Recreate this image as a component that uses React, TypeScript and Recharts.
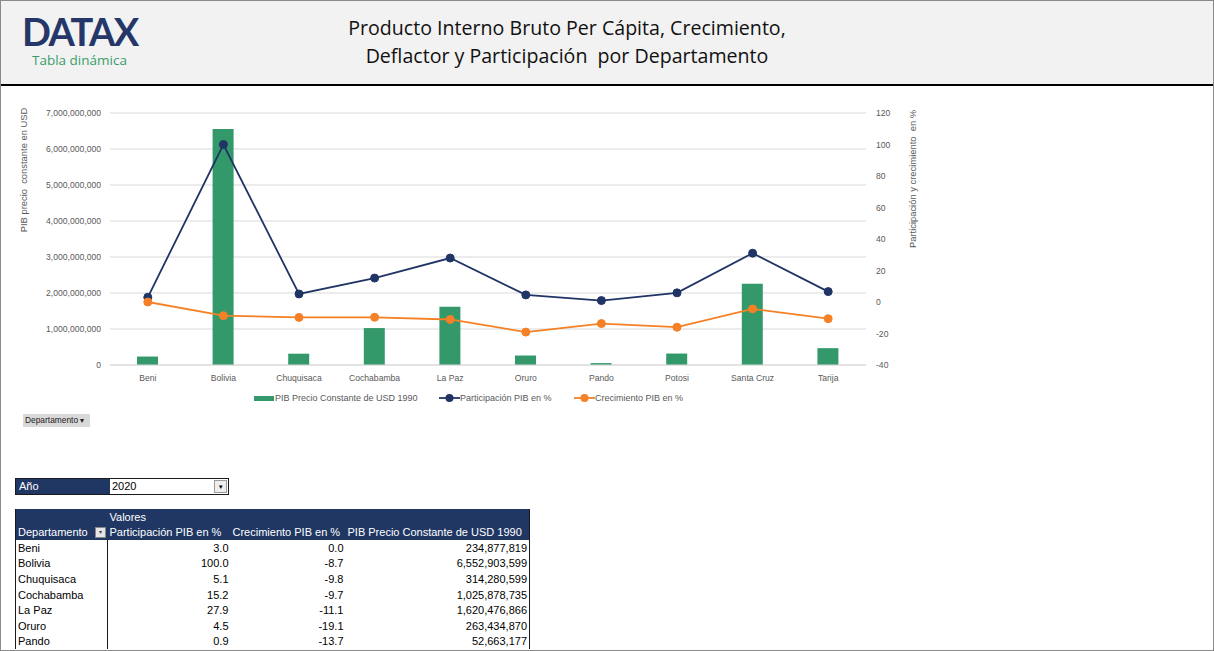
import React from 'react';
import { ComposedChart, Bar, Line, XAxis, YAxis, CartesianGrid } from 'recharts';

// valores leidos de la tabla dinamica (Potosi, Santa Cruz y Tarija estimados del grafico)
const departamentos = ['Beni', 'Bolivia', 'Chuquisaca', 'Cochabamba', 'La Paz', 'Oruro', 'Pando', 'Potosi', 'Santa Cruz', 'Tarija'];
const participacion = [3.0, 100.0, 5.1, 15.2, 27.9, 4.5, 0.9, 5.8, 31.0, 6.6];
const crecimiento = [0.0, -8.7, -9.8, -9.7, -11.1, -19.1, -13.7, -16.0, -4.4, -10.6];
const pibConstante = [234877819, 6552903599, 314280599, 1025878735, 1620476866, 263434870, 52663177, 318000000, 2255000000, 468000000];

const leftTicks = [0, 1000000000, 2000000000, 3000000000, 4000000000, 5000000000, 6000000000, 7000000000];
const rightTicks = [-40, -20, 0, 20, 40, 60, 80, 100, 120];

// filas que caben en la vista de la tabla
const visibleRows = 7;

const GREEN = '#33996b';
const NAVY = '#203466';
const ORANGE = '#f58025';
const TICK = '#595959';
const HEADER_NAVY = '#203764';
const SANS = '"Liberation Sans", Arial, sans-serif';

const series = [
  { key: 'pib', name: 'PIB Precio Constante de USD 1990', color: GREEN, kind: 'bar', left: 253 },
  { key: 'part', name: 'Participación PIB en %', color: NAVY, kind: 'line', left: 438 },
  { key: 'crec', name: 'Crecimiento PIB en %', color: ORANGE, kind: 'line', left: 573 },
];

const chartData = departamentos.map((d, i) => ({
  name: d,
  pib: pibConstante[i],
  part: participacion[i],
  crec: crecimiento[i],
}));

const fmtInt = (v: number) => v.toLocaleString('en-US');

const tickStyle = { fontSize: 8.6, fill: TICK, fontFamily: SANS };

const Legend = () => (
  <>
    {series.map(s => (
      <div key={s.key} style={{ position: 'absolute', left: s.left, top: 391, height: 12, display: 'flex', alignItems: 'center', fontFamily: SANS, fontSize: 9, color: TICK, whiteSpace: 'nowrap' }}>
        {s.kind === 'bar' ? (
          <div style={{ width: 20, height: 5, background: s.color, marginRight: 1 }} />
        ) : (
          <svg width={21} height={10}>
            <line x1={0} y1={5} x2={21} y2={5} stroke={s.color} strokeWidth={1.8} />
            <circle cx={10.5} cy={5} r={4} fill={s.color} />
          </svg>
        )}
        <span>{s.name}</span>
      </div>
    ))}
  </>
);

const colWidths = [92, 123, 115, 184];

export default function App() {
  const cellBase: React.CSSProperties = { padding: '0 2px', whiteSpace: 'nowrap', overflow: 'hidden' };
  return (
    <div style={{ position: 'absolute', left: 0, top: 0, width: 1214, height: 651, overflow: 'hidden', background: '#fff', boxSizing: 'border-box', border: '1px solid #8a8a8a' }}>
      {/* cabecera */}
      <div style={{ position: 'absolute', left: 0, top: 0, width: 1214, height: 83, background: '#f2f2f2', borderBottom: '2px solid #000' }} />
      <div style={{ position: 'absolute', left: 21, top: 15, fontFamily: 'Lato, sans-serif', fontWeight: 700, fontSize: 38, lineHeight: '30px', height: 30, color: '#253769', letterSpacing: -1.6 }}>DATAX</div>
      <div style={{ position: 'absolute', left: 31, top: 51, fontFamily: '"Open Sans", sans-serif', fontSize: 13.5, color: '#3a9d6a', lineHeight: '16px' }}>Tabla dinámica</div>
      <div style={{ position: 'absolute', left: 216, top: 13, width: 700, textAlign: 'center', fontFamily: '"Open Sans", sans-serif', fontSize: 19.6, lineHeight: '28px', color: '#111' }}>
        Producto Interno Bruto Per Cápita, Crecimiento,<br />Deflactor y Participación&nbsp; por Departamento
      </div>

      {/* grafico */}
      <div style={{ position: 'absolute', left: 0, top: 90 }}>
        <ComposedChart width={960} height={300} data={chartData} margin={{ top: 22, right: 35, bottom: 0, left: 10 }}>
          <CartesianGrid yAxisId="left" vertical={false} stroke="#d9d9d9" />
          <XAxis dataKey="name" height={26} tickLine={false} axisLine={{ stroke: '#d9d9d9' }} tick={tickStyle} tickMargin={4} interval={0} />
          <YAxis yAxisId="left" width={99} domain={[0, 7000000000]} ticks={leftTicks} tickFormatter={fmtInt} tick={tickStyle} tickLine={false} axisLine={false} tickMargin={3} />
          <YAxis yAxisId="right" orientation="right" width={60} domain={[-40, 120]} ticks={rightTicks} tick={tickStyle} tickLine={false} axisLine={false} tickMargin={4} />
          <Bar yAxisId="left" dataKey="pib" name={series[0].name} fill={GREEN} barSize={21} isAnimationActive={false} />
          <Line yAxisId="right" dataKey="part" name={series[1].name} stroke={NAVY} strokeWidth={1.8} dot={{ r: 4, fill: NAVY, stroke: NAVY, strokeWidth: 1 }} isAnimationActive={false} />
          <Line yAxisId="right" dataKey="crec" name={series[2].name} stroke={ORANGE} strokeWidth={1.8} dot={{ r: 4, fill: ORANGE, stroke: ORANGE, strokeWidth: 1 }} isAnimationActive={false} />
        </ComposedChart>
      </div>
      <div style={{ position: 'absolute', left: 22, top: 169, transform: 'translate(-50%, -50%) rotate(-90deg)', whiteSpace: 'nowrap', fontFamily: SANS, fontSize: 9.4, color: TICK }}>
        PIB precio&nbsp; constante en USD
      </div>
      <div style={{ position: 'absolute', left: 911, top: 178, transform: 'translate(-50%, -50%) rotate(-90deg)', whiteSpace: 'nowrap', fontFamily: SANS, fontSize: 9.4, color: TICK }}>
        Participación y crecimiento&nbsp; en %
      </div>
      <Legend />

      <div style={{ position: 'absolute', left: 22, top: 413, width: 67, height: 13, background: '#d9d9d9', fontFamily: SANS, fontSize: 8.4, lineHeight: '13px', color: '#222', paddingLeft: 2, boxSizing: 'border-box', whiteSpace: 'nowrap' }}>
        Departamento ▾
      </div>

      {/* filtro de año */}
      <div style={{ position: 'absolute', left: 14, top: 477, width: 212, height: 15, border: '1px solid #1a1a1a', display: 'flex', fontFamily: SANS, fontSize: 11, lineHeight: '15px' }}>
        <div style={{ width: 91, background: HEADER_NAVY, color: '#fff', paddingLeft: 3 }}>Año</div>
        <div style={{ flex: 1, background: '#fff', color: '#000', paddingLeft: 2, position: 'relative' }}>
          2020
          <div style={{ position: 'absolute', right: 1, top: 1, width: 11, height: 11, border: '1px solid #999', background: '#eee', fontSize: 7, lineHeight: '11px', textAlign: 'center' }}>▾</div>
        </div>
      </div>

      {/* tabla dinamica */}
      <table style={{ position: 'absolute', left: 14, top: 508, borderCollapse: 'collapse', tableLayout: 'fixed', width: 514, fontFamily: SANS, fontSize: 11, color: '#000', borderLeft: '1px solid #1a1a1a', borderRight: '1px solid #1a1a1a' }}>
        <colgroup>
          {colWidths.map((w, i) => <col key={i} style={{ width: w }} />)}
        </colgroup>
        <tbody>
          <tr style={{ height: 15, background: HEADER_NAVY, color: '#fff' }}>
            <td style={cellBase} />
            <td style={cellBase} colSpan={3}>Valores</td>
          </tr>
          <tr style={{ height: 16, background: HEADER_NAVY, color: '#fff' }}>
            <td style={{ ...cellBase, position: 'relative' }}>
              Departamento
              <span style={{ position: 'absolute', right: 2, top: 3, width: 9, height: 9, background: '#e6e6e6', border: '1px solid #888', color: '#444', fontSize: 6, lineHeight: '9px', textAlign: 'center' }}>▾</span>
            </td>
            <td style={cellBase}>Participación PIB en %</td>
            <td style={cellBase}>Crecimiento PIB en %</td>
            <td style={cellBase}>PIB Precio Constante de USD 1990</td>
          </tr>
          {departamentos.slice(0, visibleRows).map((d, i) => (
            <tr key={d} style={{ height: 15.6 }}>
              <td style={{ ...cellBase, borderRight: '1px solid #1a1a1a' }}>{d}</td>
              <td style={{ ...cellBase, textAlign: 'right' }}>{participacion[i].toFixed(1)}</td>
              <td style={{ ...cellBase, textAlign: 'right' }}>{crecimiento[i].toFixed(1)}</td>
              <td style={{ ...cellBase, textAlign: 'right' }}>{fmtInt(pibConstante[i])}</td>
            </tr>
          ))}
        </tbody>
      </table>
    </div>
  );
}
